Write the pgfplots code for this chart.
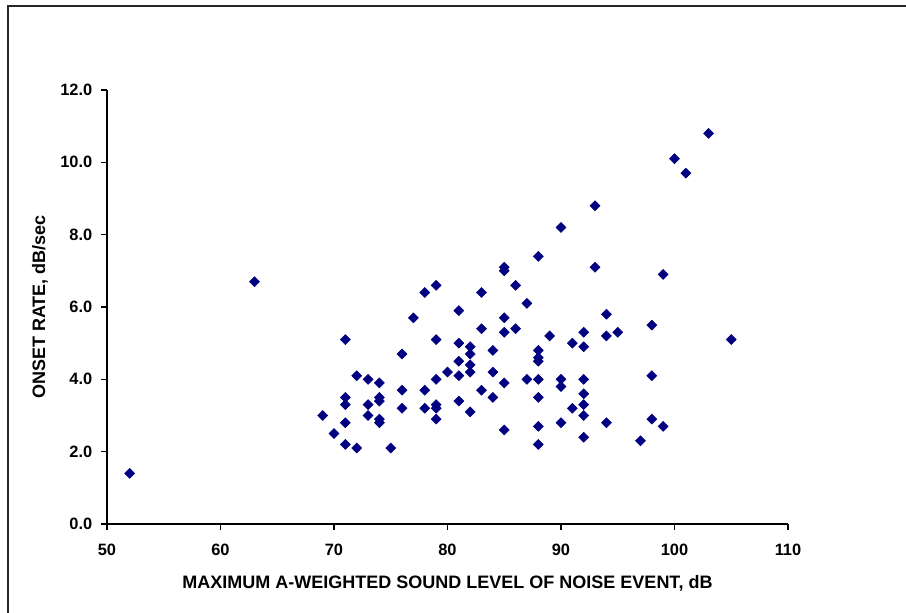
\documentclass[border=0pt]{standalone}
\usepackage{fontspec}
\setmainfont{Liberation Sans}
\usepackage{pgfplots}
\pgfplotsset{compat=1.18}
\definecolor{navy}{RGB}{0,0,128}
\begin{document}
\begin{tikzpicture}
\useasboundingbox (-80.25pt,-66pt) rectangle (599.25pt,393pt);
\draw[line width=1pt, black!85] (-74.25pt,-80pt) -- (-74.25pt,388.5pt) -- (620pt,388.5pt);
\begin{axis}[
  at={(0,0)}, anchor=south west,
  scale only axis, width=510.75pt, height=325.5pt,
  xmin=50, xmax=110, ymin=0, ymax=12,
  axis x line=bottom, axis y line=left,
  axis line style={-, black, line width=0.8pt},
  xtick={50,60,...,110}, ytick={0,2,...,12},
  tick align=outside, major tick length=4.5pt,
  tick style={black, line width=0.8pt},
  /pgf/number format/assume math mode=true,
  yticklabel style={/pgf/number format/.cd, fixed, fixed zerofill, precision=1, /tikz/xshift=-3pt},
  xticklabel style={/pgf/number format/.cd, fixed, precision=0, /tikz/yshift=-7pt},
  tick label style={font=\bfseries\fontsize{12.3}{14}\selectfont},
  xlabel={MAXIMUM A-WEIGHTED SOUND LEVEL OF NOISE EVENT, dB},
  ylabel={ONSET RATE, dB/sec},
  label style={font=\bfseries\fontsize{13.5}{16}\selectfont},
  xlabel style={at={(axis description cs:0.5,-0.136)}, anchor=center},
  ylabel style={at={(axis description cs:-0.0984,0.5)}, anchor=center},
  clip=false,
]
\addplot[only marks, mark=square*, mark size=2.65pt, mark options={rotate=45, fill=navy, draw=navy}] coordinates {
(52,1.4) (63,6.7) (69,3.0) (70,2.5)
(71,5.1) (71,3.5) (71,3.3) (71,2.8) (71,2.2)
(72,4.1) (72,2.1)
(73,4.0) (73,3.3) (73,3.0)
(74,3.9) (74,3.5) (74,3.4) (74,2.9) (74,2.8)
(75,2.1)
(76,4.7) (76,3.7) (76,3.2)
(77,5.7)
(78,6.4) (78,3.7) (78,3.2)
(79,6.6) (79,5.1) (79,4.0) (79,3.3) (79,3.2) (79,2.9)
(80,4.2)
(81,5.9) (81,5.0) (81,4.5) (81,4.1) (81,3.4)
(82,4.9) (82,4.7) (82,4.4) (82,4.2) (82,3.1)
(83,6.4) (83,5.4) (83,3.7)
(84,4.8) (84,4.2) (84,3.5)
(85,7.1) (85,7.0) (85,5.7) (85,5.3) (85,3.9) (85,2.6)
(86,6.6) (86,5.4)
(87,6.1) (87,4.0)
(88,7.4) (88,4.8) (88,4.6) (88,4.5) (88,4.0) (88,3.5) (88,2.7) (88,2.2)
(89,5.2)
(90,8.2) (90,4.0) (90,3.8) (90,2.8)
(91,5.0) (91,3.2)
(92,5.3) (92,4.9) (92,4.0) (92,3.6) (92,3.3) (92,3.0) (92,2.4)
(93,8.8) (93,7.1)
(94,5.8) (94,5.2) (94,2.8)
(95,5.3)
(97,2.3)
(98,5.5) (98,4.1) (98,2.9)
(99,6.9) (99,2.7)
(100,10.1) (101,9.7) (103,10.8) (105,5.1)
};
\end{axis}
\end{tikzpicture}
\end{document}
